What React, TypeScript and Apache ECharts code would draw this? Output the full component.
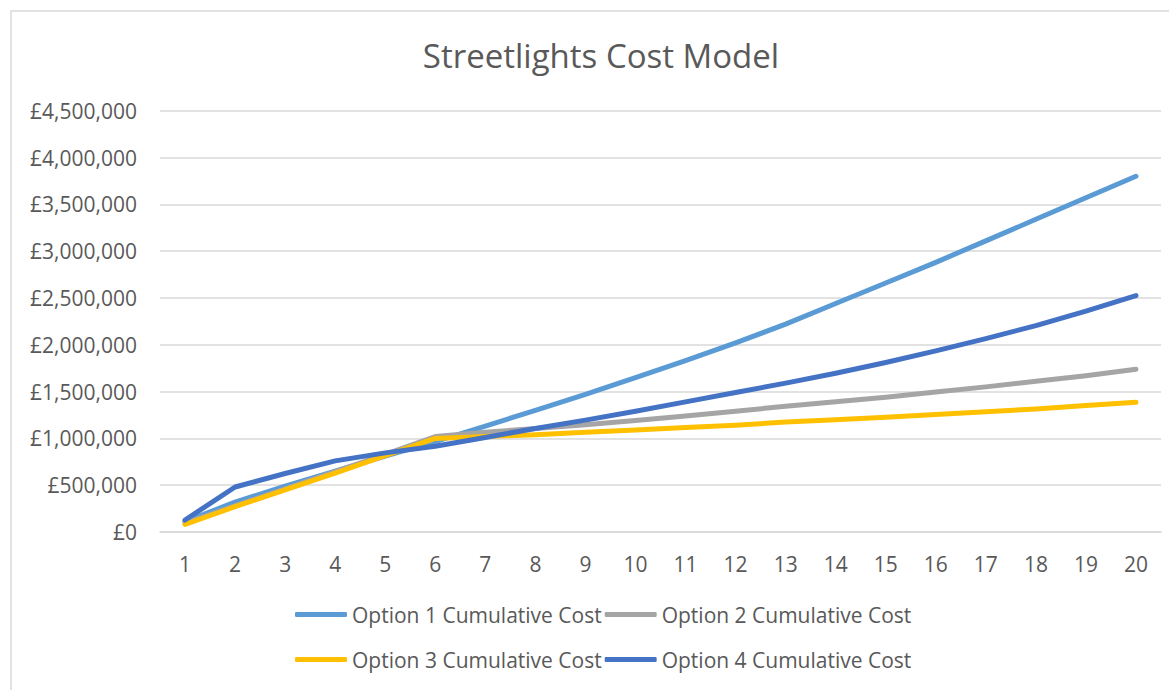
import React, { useEffect, useRef } from "react";
import * as echarts from "echarts";

const years = ["1","2","3","4","5","6","7","8","9","10","11","12","13","14","15","16","17","18","19","20"];
const option1 = [110000, 320000, 490000, 650000, 810000, 965000, 1130000, 1300000, 1470000, 1650000, 1830000, 2020000, 2220000, 2440000, 2660000, 2880000, 3110000, 3340000, 3570000, 3800000];
const option2 = [95000, 280000, 460000, 645000, 830000, 1020000, 1065000, 1105000, 1145000, 1190000, 1240000, 1290000, 1343000, 1390000, 1440000, 1495000, 1550000, 1610000, 1670000, 1738000];
const option3 = [80000, 270000, 450000, 630000, 815000, 1000000, 1020000, 1040000, 1065000, 1090000, 1115000, 1140000, 1175000, 1200000, 1225000, 1255000, 1285000, 1315000, 1350000, 1385000];
const option4 = [128000, 481000, 625000, 760000, 845000, 915000, 1010000, 1105000, 1195000, 1290000, 1390000, 1490000, 1590000, 1695000, 1810000, 1935000, 2065000, 2205000, 2360000, 2525000];

const seriesNames = ["Option 1 Cumulative Cost", "Option 2 Cumulative Cost", "Option 3 Cumulative Cost", "Option 4 Cumulative Cost"];
const seriesData = [option1, option2, option3, option4];
const colors = ["#5B9BD5", "#A5A5A5", "#FFC000", "#4472C4"];

const FONT = "Open Sans";
const TEXT = "#595959";

function fmt(v: number): string {
  return "£" + String(Math.round(v)).replace(/\B(?=(\d{3})+(?!\d))/g, ",");
}

export default function App() {
  const ref = useRef<HTMLDivElement>(null);
  useEffect(() => {
    if (!ref.current) return;
    const chart = echarts.init(ref.current, undefined, { renderer: "svg" });
    chart.setOption({
      animation: false,
      backgroundColor: "#ffffff",
      title: {
        text: "Streetlights Cost Model",
        left: 596,
        textAlign: "center",
        top: 34,
        textStyle: { fontFamily: FONT, fontSize: 33, fontWeight: "normal", color: TEXT },
      },
      graphic: [
        {
          type: "rect",
          shape: { x: 11, y: 11, width: 1170, height: 700 },
          style: { fill: "none", stroke: "#D9D9D9", lineWidth: 1.5 },
          silent: true,
        },
      ],
      legend: [
        {
          data: [seriesNames[0], seriesNames[1]],
          left: 290,
          top: 599,
          icon: "roundRect",
          itemWidth: 52,
          itemHeight: 5,
          itemGap: 3,
          textStyle: { fontFamily: FONT, fontSize: 21, color: TEXT },
        },
        {
          data: [seriesNames[2], seriesNames[3]],
          left: 290,
          top: 644,
          icon: "roundRect",
          itemWidth: 52,
          itemHeight: 5,
          itemGap: 3,
          textStyle: { fontFamily: FONT, fontSize: 21, color: TEXT },
        },
      ],
      grid: { left: 160, right: 8, top: 110.7, bottom: 158, containLabel: false },
      xAxis: {
        type: "category",
        data: years,
        boundaryGap: true,
        axisLine: { show: true, lineStyle: { color: "#D9D9D9", width: 1.5 } },
        axisTick: { show: false },
        axisLabel: { fontFamily: FONT, fontSize: 21, color: TEXT, margin: 21 },
      },
      yAxis: {
        type: "value",
        min: 0,
        max: 4500000,
        interval: 500000,
        axisLine: { show: false },
        axisTick: { show: false },
        splitLine: { lineStyle: { color: "#D9D9D9", width: 1.5 } },
        axisLabel: { fontFamily: FONT, fontSize: 21, color: TEXT, margin: 23, formatter: (v: number) => fmt(v) },
      },
      series: seriesNames.map((name, i) => ({
        name,
        type: "line",
        data: seriesData[i],
        symbol: "none",
        showSymbol: false,
        color: colors[i],
        lineStyle: { color: colors[i], width: 5, cap: "round", join: "round" },
        itemStyle: { color: colors[i] },
        z: 2 + i,
      })),
    });
    return () => chart.dispose();
  }, []);
  return (
    <div
      ref={ref}
      style={{ position: "fixed", left: 0, top: 0, width: 1169, height: 690, background: "#fff" }}
    />
  );
}
